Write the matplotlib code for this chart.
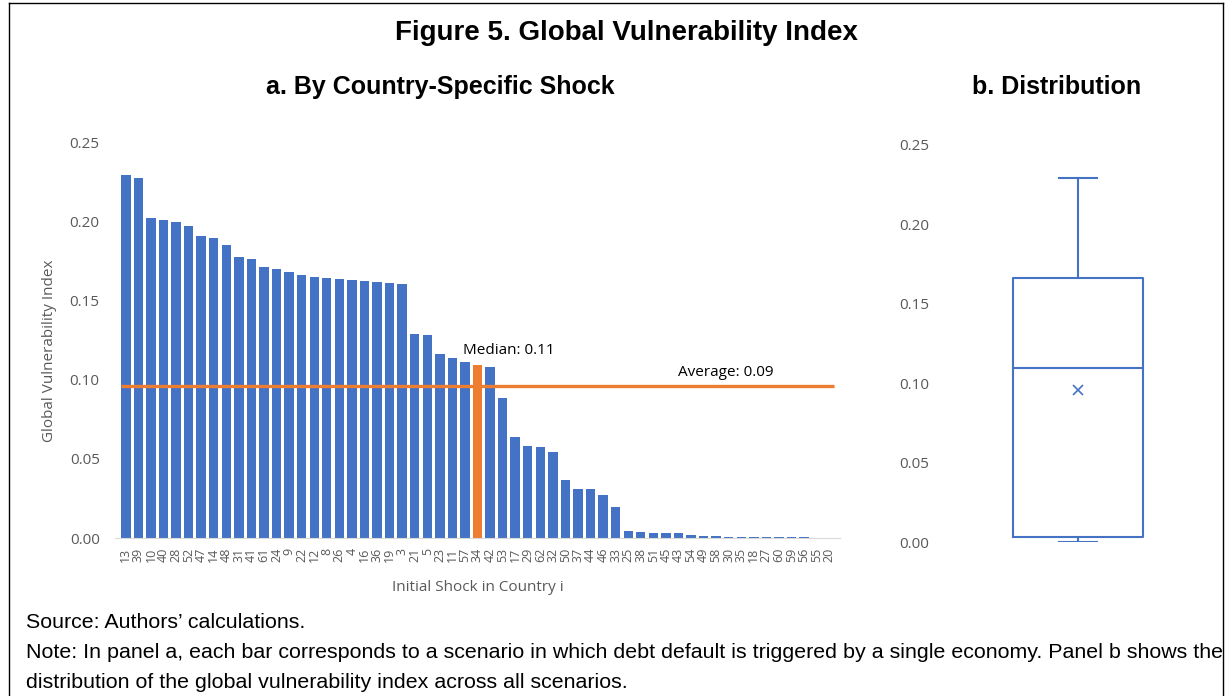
import numpy as np
import matplotlib
matplotlib.use("Agg")
import matplotlib.pyplot as plt
from matplotlib.lines import Line2D

# Scenario results: country where the initial shock hits, and resulting index
countries = ["13", "39", "10", "40", "28", "52", "47", "14", "48", "31",
             "41", "61", "24", "9", "22", "12", "8", "26", "4", "16",
             "36", "19", "3", "21", "5", "23", "11", "57", "34", "42",
             "53", "17", "29", "62", "32", "50", "37", "44", "46", "33",
             "25", "38", "51", "45", "43", "54", "49", "58", "30", "35",
             "18", "27", "60", "59", "56", "55", "20"]
gvi = [0.2290, 0.2270, 0.2020, 0.2005, 0.1995, 0.1970, 0.1905, 0.1894, 0.1852, 0.1772,
       0.1760, 0.1711, 0.1698, 0.1681, 0.1660, 0.1646, 0.1640, 0.1637, 0.1629, 0.1620,
       0.1614, 0.1610, 0.1605, 0.1286, 0.1282, 0.1160, 0.1138, 0.1111, 0.1094, 0.1080,
       0.0884, 0.0636, 0.0579, 0.0573, 0.0543, 0.0366, 0.0311, 0.0307, 0.0271, 0.0196,
       0.0045, 0.0036, 0.0034, 0.0033, 0.0032, 0.0016, 0.0014, 0.0010, 0.0009, 0.0008,
       0.0007, 0.0006, 0.0006, 0.0005, 0.0005, 0.0003, 0.0002]
y_ticks = [0.00, 0.05, 0.10, 0.15, 0.20, 0.25]

BLUE = "#4472C4"
ORANGE = "#ED7D31"
GREY = "#595959"
TEXT_FONT = ["Open Sans", "DejaVu Sans"]
TITLE_FONT = ["Liberation Sans", "DejaVu Sans"]

values = np.array(gvi)
x = np.arange(len(values))
median_val = np.median(values)
mean_val = values.mean()
median_idx = int(np.argsort(values)[len(values) // 2])

fig = plt.figure(figsize=(12.25, 6.96), dpi=100)
W, H = 1225, 696


def fig_rect(left, top, right, bottom):
    return [left / W, 1 - bottom / H, (right - left) / W, (bottom - top) / H]


# panel a: bars per scenario
ax = fig.add_axes(fig_rect(115, 142, 840, 538))
colors = [ORANGE if i == median_idx else BLUE for i in x]
ax.bar(x, values, width=0.75, color=colors, zorder=2)
ax.hlines(mean_val, -0.38, len(values) - 1 + 0.38, color=ORANGE, lw=2.4, zorder=3)
ax.set_xlim(-0.86, len(values) - 1 + 0.86)
ax.set_ylim(0, 0.25)
ax.set_yticks(y_ticks)
ax.set_yticklabels([f"{t:.2f}" for t in y_ticks], fontsize=11, color=GREY, family=TEXT_FONT)
ax.set_xticks(x)
ax.set_xticklabels(countries, rotation=90, fontsize=9, color=GREY, family=TEXT_FONT)
ax.tick_params(axis="y", length=0, pad=11)
ax.tick_params(axis="x", length=0, pad=7)
for s in ["top", "right", "left"]:
    ax.spines[s].set_visible(False)
ax.spines["bottom"].set_color("#D9D9D9")
ax.set_ylabel("Global Vulnerability Index", fontsize=11, color=GREY, family=TEXT_FONT)
ax.yaxis.set_label_coords(-0.080, 0.472)
ax.set_xlabel("Initial Shock in Country i", fontsize=11, color=GREY, family=TEXT_FONT, labelpad=13)

ax.text(median_idx + 2.5, median_val + 0.004, f"Median: {median_val:.2f}",
        ha="center", va="bottom", fontsize=11, family=TEXT_FONT)
ax.text(47.8, mean_val + 0.004, f"Average: {np.floor(mean_val * 100) / 100:.2f}",
        ha="center", va="bottom", fontsize=11, family=TEXT_FONT)

# panel b: distribution across scenarios
ax2 = fig.add_axes(fig_rect(950, 145, 1206, 542))
ax2.boxplot(values, positions=[1], widths=1.02, whis=(0, 100), showmeans=True,
            showfliers=False, capwidths=0.29,
            boxprops=dict(color=BLUE, lw=1.5),
            whiskerprops=dict(color=BLUE, lw=1.5),
            capprops=dict(color=BLUE, lw=1.5),
            medianprops=dict(color=BLUE, lw=1.5),
            meanprops=dict(marker="x", markeredgecolor=BLUE, markersize=7, markeredgewidth=1.2))
ax2.set_xlim(0, 2)
ax2.set_ylim(0, 0.25)
ax2.set_yticks(y_ticks)
ax2.set_yticklabels([f"{t:.2f}" for t in y_ticks], fontsize=11, color=GREY, family=TEXT_FONT)
ax2.set_xticks([])
ax2.tick_params(axis="y", length=0, pad=15)
for s in ax2.spines.values():
    s.set_visible(False)

# titles and notes
fig.text(626 / W, 1 - 33 / H, "Figure 5. Global Vulnerability Index", ha="center", va="center",
         fontsize=20, fontweight="bold", family=TITLE_FONT)
fig.text(440 / W, 1 - 87 / H, "a. By Country-Specific Shock", ha="center", va="center",
         fontsize=18, fontweight="bold", family=TITLE_FONT)
fig.text(1057 / W, 1 - 87 / H, "b. Distribution", ha="center", va="center",
         fontsize=18, fontweight="bold", family=TITLE_FONT)
fig.text(26 / W, 1 - 623 / H, "Source: Authors\u2019 calculations.", ha="left", va="center",
         fontsize=15.4, family=TITLE_FONT)
fig.text(26 / W, 1 - 653 / H,
         "Note: In panel a, each bar corresponds to a scenario in which debt default is "
         "triggered by a single economy. Panel b shows the",
         ha="left", va="center", fontsize=15.4, family=TITLE_FONT)
fig.text(26 / W, 1 - 683 / H,
         "distribution of the global vulnerability index across all scenarios.",
         ha="left", va="center", fontsize=15.4, family=TITLE_FONT)

# frame around the exhibit
for xs, ys in [([9, 9], [3, H]), ([9, 1223], [3, 3]), ([1223, 1223], [3, H])]:
    fig.add_artist(Line2D([v / W for v in xs], [1 - v / H for v in ys],
                          color="black", lw=1.0))

fig.savefig("out.png", dpi=100)
